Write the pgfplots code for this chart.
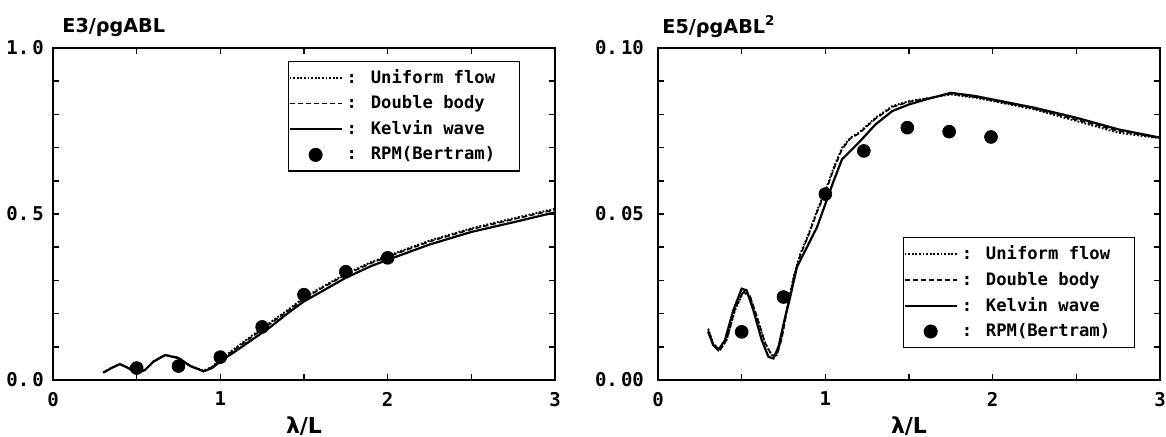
\documentclass[border=0pt]{standalone}
\usepackage{fontspec}
\setmainfont{DejaVu Sans}
\newfontfamily\monof{DejaVu Sans Mono}
\usepackage{pgfplots}
\usepackage{pgfplotstable}
\pgfplotsset{compat=1.18}

% ---------- left panel: E3 ----------
\pgfplotstableread{
x y
0.30 0.022
0.35 0.036
0.40 0.048
0.45 0.036
0.50 0.021
0.55 0.030
0.60 0.055
0.67 0.075
0.75 0.066
0.82 0.042
0.90 0.026
0.95 0.036
1.00 0.056
1.10 0.090
1.20 0.125
1.30 0.160
1.40 0.200
1.50 0.237
1.60 0.265
1.75 0.308
1.90 0.343
2.00 0.362
2.25 0.408
2.50 0.446
2.75 0.475
3.00 0.505
}\leftKelvin
\pgfplotstableread{
x y
0.30 0.023
0.35 0.037
0.40 0.048
0.45 0.036
0.50 0.022
0.55 0.031
0.60 0.056
0.67 0.076
0.75 0.067
0.82 0.043
0.90 0.028
0.95 0.040
1.00 0.062
1.10 0.100
1.20 0.138
1.30 0.174
1.40 0.210
1.50 0.248
1.60 0.278
1.75 0.320
1.90 0.355
2.00 0.374
2.25 0.420
2.50 0.457
2.75 0.487
3.00 0.516
}\leftUniform
\pgfplotstableread{
x y
0.30 0.023
0.35 0.037
0.40 0.048
0.45 0.036
0.50 0.022
0.55 0.031
0.60 0.056
0.67 0.076
0.75 0.067
0.82 0.043
0.90 0.027
0.95 0.039
1.00 0.060
1.10 0.097
1.20 0.134
1.30 0.170
1.40 0.207
1.50 0.245
1.60 0.275
1.75 0.317
1.90 0.352
2.00 0.371
2.25 0.417
2.50 0.454
2.75 0.484
3.00 0.513
}\leftDouble
\pgfplotstableread{
x y
0.50 0.036
0.75 0.042
1.00 0.069
1.25 0.160
1.50 0.257
1.75 0.326
2.00 0.368
}\leftRPM

% ---------- right panel: E5 ----------
\pgfplotstableread{
x y
0.30 0.0145
0.33 0.0105
0.36 0.0090
0.40 0.0120
0.45 0.0210
0.50 0.0275
0.53 0.0270
0.57 0.0210
0.62 0.0120
0.66 0.0070
0.69 0.0065
0.72 0.0100
0.76 0.0190
0.79 0.0250
0.83 0.0340
0.90 0.0410
0.95 0.0460
1.00 0.0530
1.05 0.0600
1.10 0.0665
1.15 0.0690
1.20 0.0715
1.30 0.0770
1.40 0.0810
1.50 0.0830
1.60 0.0845
1.75 0.0865
1.90 0.0855
2.00 0.0845
2.25 0.0820
2.50 0.0790
2.75 0.0755
3.00 0.0730
}\rightKelvin
\pgfplotstableread{
x y
0.30 0.0155
0.33 0.0110
0.37 0.0090
0.41 0.0120
0.46 0.0210
0.51 0.0265
0.55 0.0250
0.59 0.0190
0.64 0.0110
0.68 0.0075
0.71 0.0075
0.74 0.0130
0.78 0.0240
0.81 0.0310
0.85 0.0380
0.90 0.0440
0.95 0.0510
1.00 0.0570
1.05 0.0640
1.10 0.0700
1.15 0.0730
1.20 0.0745
1.30 0.0790
1.40 0.0825
1.50 0.0840
1.60 0.0848
1.75 0.0860
1.90 0.0850
2.00 0.0840
2.25 0.0815
2.50 0.0780
2.75 0.0745
3.00 0.0728
}\rightUniform
\pgfplotstableread{
x y
0.30 0.0150
0.33 0.0108
0.37 0.0090
0.41 0.0121
0.46 0.0212
0.51 0.0268
0.55 0.0253
0.59 0.0193
0.64 0.0112
0.68 0.0074
0.71 0.0074
0.74 0.0125
0.78 0.0235
0.81 0.0305
0.85 0.0375
0.90 0.0437
0.95 0.0505
1.00 0.0565
1.05 0.0635
1.10 0.0695
1.15 0.0728
1.20 0.0742
1.30 0.0787
1.40 0.0822
1.50 0.0838
1.60 0.0847
1.75 0.0862
1.90 0.0852
2.00 0.0842
2.25 0.0817
2.50 0.0784
2.75 0.0750
3.00 0.0729
}\rightDouble
\pgfplotstableread{
x y
0.50 0.0145
0.75 0.0250
1.00 0.0560
1.23 0.0690
1.49 0.0760
1.74 0.0748
1.99 0.0732
}\rightRPM

\pgfplotsset{
  myax/.style={
    width=251pt, height=166pt, scale only axis,
    xmin=0, xmax=3, xtick={0,1,2,3}, minor xtick={0.5,1.5,2.5},
    tick align=inside, major tick length=3pt, minor tick length=3pt,
    axis line style={line width=1pt},
    every tick/.style={black, line width=0.8pt},
    /pgf/number format/assume math mode=true,
    xticklabel style={font=\monof\bfseries\fontsize{9.5}{10}\selectfont, yshift=-2.5pt},
    yticklabel style={font=\monof\bfseries\fontsize{9.5}{10}\selectfont},
    scaled y ticks=false,
    xlabel={λ/L},
    xlabel style={at={(rel axis cs:0.5,0)}, anchor=base, yshift=-26.5pt,
                  font=\bfseries\fontsize{11}{12}\selectfont},
    legend image code/.code={%
      \draw[mark repeat=2,mark phase=2,#1]
        plot coordinates {(0pt,0pt) (13pt,0pt) (26pt,0pt)};},
    legend style={draw=black, line width=0.6pt, fill=white,
      anchor=north west, inner xsep=0pt, inner ysep=2pt,
      font=\monof\bfseries\fontsize{8.6}{10}\selectfont,
      cells={anchor=west}, row sep=0.6pt,
      /tikz/every even column/.append style={column sep=5pt}},
  },
  uni/.style={black, line width=0.9pt, dash pattern=on 0.9pt off 0.9pt},
  dbl/.style={black, line width=0.8pt, dash pattern=on 2.6pt off 1.4pt},
  kel/.style={black, line width=1.1pt},
  rpm/.style={only marks, mark=*, mark size=3.2pt, black},
}

\begin{document}
\begin{tikzpicture}[x=1pt,y=1pt]
\path[use as bounding box] (0,0) rectangle (583,218);

\begin{axis}[myax, at={(26.5pt,28pt)}, anchor=south west,
  ymin=0, ymax=1, ytick={0,0.5,1}, yticklabels={0.\,0,0.\,5,1.\,0},
  minor ytick={0.1,0.2,0.3,0.4,0.6,0.7,0.8,0.9},
  yticklabel style={xshift=-1pt},
  legend style={at={(rel axis cs:0.468,0.962)}}]
  \addplot[uni] table {\leftUniform};
  \addplot[dbl] table {\leftDouble};
  \addplot[kel] table {\leftKelvin};
  \addplot[rpm] table {\leftRPM};
  \legend{: Uniform flow\hspace*{10pt}, : Double body, : Kelvin wave, : RPM(Bertram)}
\end{axis}
\node[anchor=base west, inner sep=0pt, font=\bfseries\fontsize{9.6}{11}\selectfont]
  at (31pt,202pt) {E3/ρgABL};

\begin{axis}[myax, at={(329pt,28pt)}, anchor=south west,
  ymin=0, ymax=0.1, ytick={0,0.05,0.1}, yticklabels={0.\,00,0.\,05,0.\,10},
  minor ytick={0.01,0.02,0.03,0.04,0.06,0.07,0.08,0.09},
  yticklabel style={xshift=-3.5pt},
  legend style={at={(rel axis cs:0.488,0.43)}}]
  \addplot[uni] table {\rightUniform};
  \addplot[dbl] table {\rightDouble};
  \addplot[kel] table {\rightKelvin};
  \addplot[rpm] table {\rightRPM};
  \legend{: Uniform flow\hspace*{10pt}, : Double body, : Kelvin wave, : RPM(Bertram)}
\end{axis}
\node[anchor=base west, inner sep=0pt, font=\bfseries\fontsize{9.6}{11}\selectfont]
  at (331pt,201.5pt) {E5/ρgABL\textsuperscript{2}};
\end{tikzpicture}
\end{document}
